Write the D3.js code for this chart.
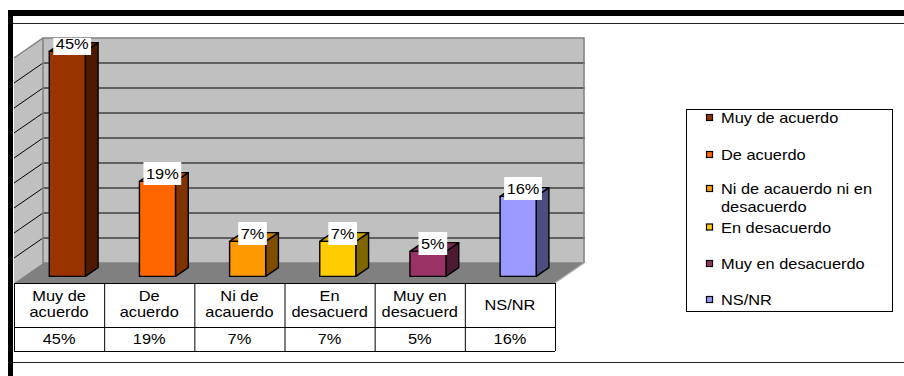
<!DOCTYPE html>
<html>
<head>
<meta charset="utf-8">
<script src="https://cdn.jsdelivr.net/npm/d3@7"></script>
<style>
  body { margin: 0; background: #fff; }
  svg { display: block; }
  text { font-family: "Liberation Sans", Arial, sans-serif; font-size: 14px; fill: #000; }
</style>
</head>
<body>
<svg id="chart" width="904" height="376"></svg>
<script>
// Survey answers and their shares (%)
const categories = ["Muy de acuerdo", "De acuerdo", "Ni de acauerdo ni en desacuerdo", "En desacuerdo", "Muy en desacuerdo", "NS/NR"];
const values = [45, 19, 7, 7, 5, 16];
const valueLabels = ["45%", "19%", "7%", "7%", "5%", "16%"];
const tableLabels = [["Muy de", "acuerdo"], ["De", "acuerdo"], ["Ni de", "acauerdo"], ["En", "desacuerd"], ["Muy en", "desacuerd"], ["NS/NR"]];
const legendLabels = [["Muy de acuerdo"], ["De acuerdo"], ["Ni de acauerdo ni en", "desacuerdo"], ["En desacuerdo"], ["Muy en desacuerdo"], ["NS/NR"]];
const colors = ["#993300", "#FF6600", "#FF9900", "#FFCC00", "#993366", "#9999FF"];
const gridTicks = [0, 5, 10, 15, 20, 25, 30, 35, 40, 45];

const svg = d3.select("#chart");
const SX = 1.17; // horizontal text stretch

// Oblique 3D projection: depth d in [0,1] shifts right and up
const DX = 29, DY = 20;
const x = d3.scaleBand().domain(categories).range([14, 555]).padding(0);
const y = d3.scaleLinear().domain([0, 45]).range([283, 58]);
const bw = x.bandwidth();
const x0 = x.range()[0], x1 = x.range()[1];
const proj = (px, v, d) => [px + DX * d, y(v) - DY * d];
const line = d3.line();
const poly = pts => line(pts) + "Z";

function label(g, str, px, py, anchor) {
  return g.append("text")
    .attr("transform", `translate(${px},${py}) scale(${SX},1)`)
    .attr("text-anchor", anchor || "middle")
    .text(str);
}

// Outer frame
svg.append("rect").attr("x", 8).attr("y", 10).attr("width", 896).attr("height", 6).attr("fill", "#000");
svg.append("rect").attr("x", 8).attr("y", 10).attr("width", 5).attr("height", 366).attr("fill", "#000");
svg.append("line").attr("x1", 13).attr("x2", 904).attr("y1", 23.5).attr("y2", 23.5).attr("stroke", "#222").attr("stroke-width", 1.2);
svg.append("line").attr("x1", 13).attr("x2", 904).attr("y1", 362.5).attr("y2", 362.5).attr("stroke", "#222").attr("stroke-width", 1.2);

const yMax = d3.max(gridTicks);
const walls = svg.append("g");
// back wall
walls.append("path").attr("d", poly([proj(x0, 0, 1), proj(x0, yMax, 1), proj(x1, yMax, 1), proj(x1, 0, 1)]))
  .attr("fill", "#c0c0c0");
// left wall
walls.append("path").attr("d", poly([proj(x0, 0, 0), proj(x0, yMax, 0), proj(x0, yMax, 1), proj(x0, 0, 1)]))
  .attr("fill", "#c0c0c0");
// floor
walls.append("path").attr("d", poly([proj(x0, 0, 0), proj(x0, 0, 1), proj(x1, 0, 1), proj(x1, 0, 0)]))
  .attr("fill", "#808080");

// gridlines on both walls
const inner = gridTicks.filter(t => t > 0 && t < yMax);
walls.selectAll("line.gb").data(inner).join("line")
  .attr("x1", t => proj(x0, t, 1)[0]).attr("y1", t => proj(x0, t, 1)[1])
  .attr("x2", t => proj(x1, t, 1)[0] + 1).attr("y2", t => proj(x1, t, 1)[1])
  .attr("stroke", "#000").attr("stroke-width", 1);
walls.selectAll("line.gl").data(inner).join("line")
  .attr("x1", t => proj(x0, t, 0)[0]).attr("y1", t => proj(x0, t, 0)[1])
  .attr("x2", t => proj(x0, t, 1)[0]).attr("y2", t => proj(x0, t, 1)[1])
  .attr("stroke", "#000").attr("stroke-width", 1);

// wall edges
walls.append("path")
  .attr("d", line([proj(x0, yMax, 0), proj(x0, yMax, 1), proj(x1, yMax, 1), proj(x1, 0, 1)]))
  .attr("fill", "none").attr("stroke", "#808080").attr("stroke-width", 1.5);
walls.append("path")
  .attr("d", line([proj(x0, yMax, 1), proj(x0, 0, 1), proj(x1, 0, 1)]))
  .attr("fill", "none").attr("stroke", "#808080").attr("stroke-width", 1.5);
walls.append("path")
  .attr("d", line([proj(x1, 0, 1), proj(x1, 0, 0)]))
  .attr("fill", "none").attr("stroke", "#b0b0b0").attr("stroke-width", 1.2);

// bars
const D0 = 0.33, D1 = 0.77;
const shade = (c, k) => { const r = d3.rgb(c); return d3.rgb(r.r * k, r.g * k, r.b * k).formatHex(); };
const bars = svg.append("g").attr("stroke", "#000").attr("stroke-width", 1.4).attr("stroke-linejoin", "round");
categories.forEach((c, i) => {
  const v = values[i];
  const xl = x(c) + bw * 0.285, xr = xl + bw * 0.4;
  const g = bars.append("g");
  g.append("path").attr("fill", shade(colors[i], 0.5))
    .attr("d", poly([proj(xr, 0, D0), proj(xr, 0, D1), proj(xr, v, D1), proj(xr, v, D0)]));
  g.append("path").attr("fill", shade(colors[i], 0.8))
    .attr("d", poly([proj(xl, v, D0), proj(xr, v, D0), proj(xr, v, D1), proj(xl, v, D1)]));
  g.append("path").attr("fill", colors[i])
    .attr("d", poly([proj(xl, 0, D0), proj(xr, 0, D0), proj(xr, v, D0), proj(xl, v, D0)]));
});

// value labels, clipped to the plot area top
svg.append("clipPath").attr("id", "plotclip")
  .append("rect").attr("x", 0).attr("y", proj(x0, yMax, 1)[1]).attr("width", 904).attr("height", 376);
const labels = svg.append("g").attr("clip-path", "url(#plotclip)");
categories.forEach((c, i) => {
  const v = values[i];
  const xl = x(c) + bw * 0.285, xr = xl + bw * 0.4;
  const dm = (D0 + D1) / 2;
  const cx = (xl + xr) / 2 + DX * dm - 1.5;
  const cy = y(v) - DY * dm - 3.5;
  const box = labels.append("rect").attr("fill", "#fff");
  const t = label(labels, valueLabels[i], cx, cy + 5);
  const w = t.node().getComputedTextLength() * SX + 5;
  box.attr("x", cx - w / 2).attr("y", cy - 11.5).attr("width", w).attr("height", 23);
});

// data table under the chart
const table = svg.append("g");
const rowTop = 283, rowMid = 327, rowBot = 351;
[rowTop, rowMid, rowBot].forEach(ry => {
  table.append("line").attr("x1", x0).attr("x2", x1).attr("y1", ry + 0.5).attr("y2", ry + 0.5)
    .attr("stroke", "#000").attr("stroke-width", 1);
});
categories.concat([null]).forEach(c => {
  const px = c === null ? x1 : x(c);
  table.append("line").attr("x1", px + 0.5).attr("x2", px + 0.5).attr("y1", rowTop).attr("y2", rowBot)
    .attr("stroke", "#000").attr("stroke-width", 1);
});
categories.forEach((c, i) => {
  const cx = x(c) + bw / 2;
  const lines = tableLabels[i];
  if (lines.length === 2) {
    label(table, lines[0], cx, 301);
    label(table, lines[1], cx, 317);
  } else {
    label(table, lines[0], cx, 310);
  }
  label(table, valueLabels[i], cx, 344);
});

// legend
const legend = svg.append("g");
legend.append("rect").attr("x", 686.5).attr("y", 109.5).attr("width", 206).attr("height", 202)
  .attr("fill", "#fff").attr("stroke", "#000").attr("stroke-width", 1);
const legendBase = [123, 160, 194, 232.5, 269, 305];
categories.forEach((c, i) => {
  const by = legendBase[i];
  legend.append("rect").attr("x", 706.5).attr("y", by - 8.5).attr("width", 6).attr("height", 6)
    .attr("fill", colors[i]).attr("stroke", "#000").attr("stroke-width", 1.2);
  legendLabels[i].forEach((s, k) => label(legend, s, 721, by + k * 18, "start"));
});
</script>
</body>
</html>
